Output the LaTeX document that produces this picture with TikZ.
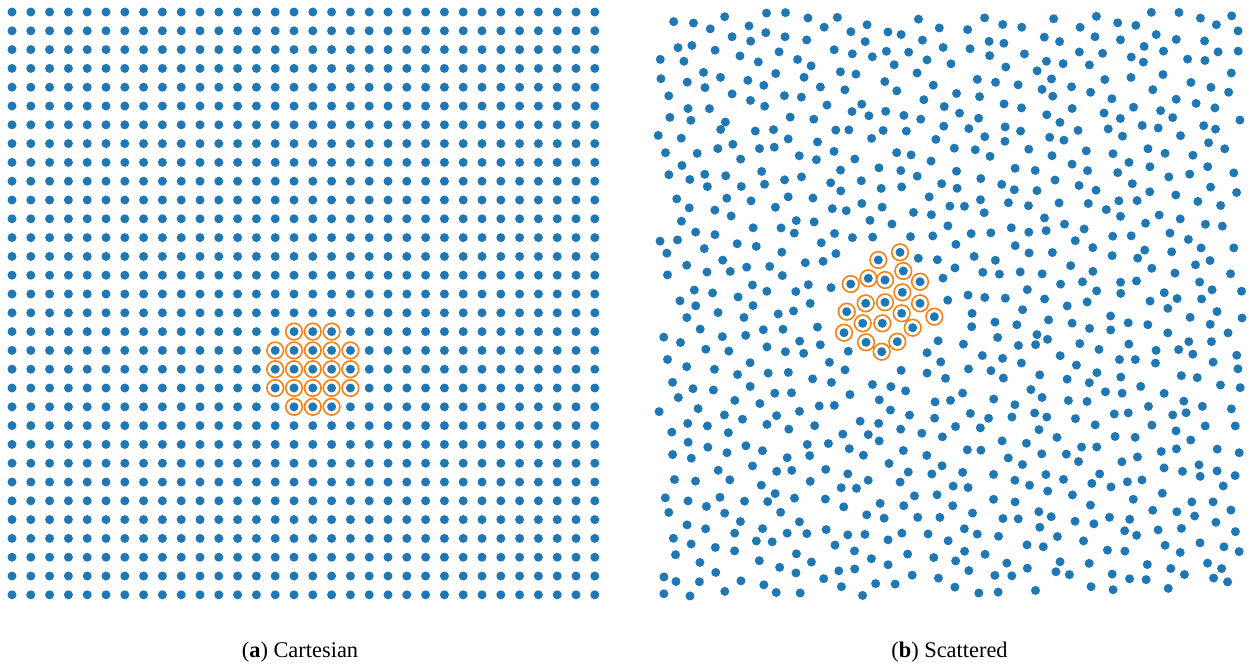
\documentclass[tikz,border=0pt]{standalone}
\usepackage{fontspec}
\setmainfont{Liberation Serif}
\definecolor{mblue}{HTML}{1F77B4}
\definecolor{morange}{HTML}{FF7F0E}
\tikzset{
  dot/.style={fill=mblue, draw=none},
  sel/.style={draw=morange, line width=0.8pt},
  captext/.style={font=\fontsize{11.2}{13}\selectfont, anchor=base}
}
\def\selpts{900/252.3,878.3/260,903.3/271,850.7/284,868.3/278.3,885/280,
  920/281.7,902.3/292.3,865.7/303.3,885/302.3,920/303.3,901.7/313.3,846.7/311.7,
  862.7/323.3,882.3/323.3,934.3/316.7,912.7/327.7,844/332.7,866/342.3,897.3/341.7,
  881.7/351.7}
\begin{document}
\begin{tikzpicture}[x=0.5pt,y=-0.5pt]
\useasboundingbox (0,0) rectangle (1252,666);
% (a) Cartesian grid
\foreach \i in {0,...,31} \foreach \j in {0,...,31} {
  \fill[dot] ({12+18.8*\i},{12+18.8*\j}) circle[radius=4.5];
}
\foreach \i/\j in {15/17,16/17,17/17,
  14/18,15/18,16/18,17/18,18/18,
  14/19,15/19,16/19,17/19,18/19,
  14/20,15/20,16/20,17/20,18/20,
  15/21,16/21,17/21} {
  \draw[sel] ({12+18.8*\i},{12+18.8*\j}) circle[radius=8.3];
}
% (b) Scattered points: jittered, rotated hexagonal lattice
\pgfmathsetseed{11}
\foreach \j in {-20,...,20} \foreach \i in {-20,...,20} {
  \pgfmathsetmacro\u{(\i+0.5*mod(abs(\j),2))*21.9+5.5*rand}
  \pgfmathsetmacro\v{\j*18.97+5.5*rand}
  \pgfmathsetmacro\px{949+\u*cos(17)-\v*sin(17)}
  \pgfmathsetmacro\py{304+\u*sin(17)+\v*cos(17)}
  \pgfmathtruncatemacro\keep{and(and(\px>657,\px<1242),and(and(\py>12,\py<596),veclen(\px-885,\py-302)>53))}
  \ifnum\keep=1
    \pgfmathtruncatemacro\near{veclen(\px-885,\py-302)<75}
    \ifnum\near=1
      \foreach \p/\q in \selpts {
        \pgfmathtruncatemacro\clash{veclen(\px-\p,\py-\q)<17}
        \ifnum\clash=1 \global\def\keepflag{0}\fi
      }
    \fi
    \ifx\keepflag\undefined
      \fill[dot] (\px,\py) circle[radius=4.5];
    \fi
    \global\let\keepflag\undefined
  \fi
}
\foreach \p/\q in \selpts {
  \fill[dot] (\p,\q) circle[radius=4.5];
  \draw[sel] (\p,\q) circle[radius=8.3];
}
% captions
\node[captext] (capa) at (300,657) {(\textbf{a}) Cartesian};
\node[captext] (capb) at (949.5,657) {(\textbf{b}) Scattered};
\end{tikzpicture}
\end{document}
